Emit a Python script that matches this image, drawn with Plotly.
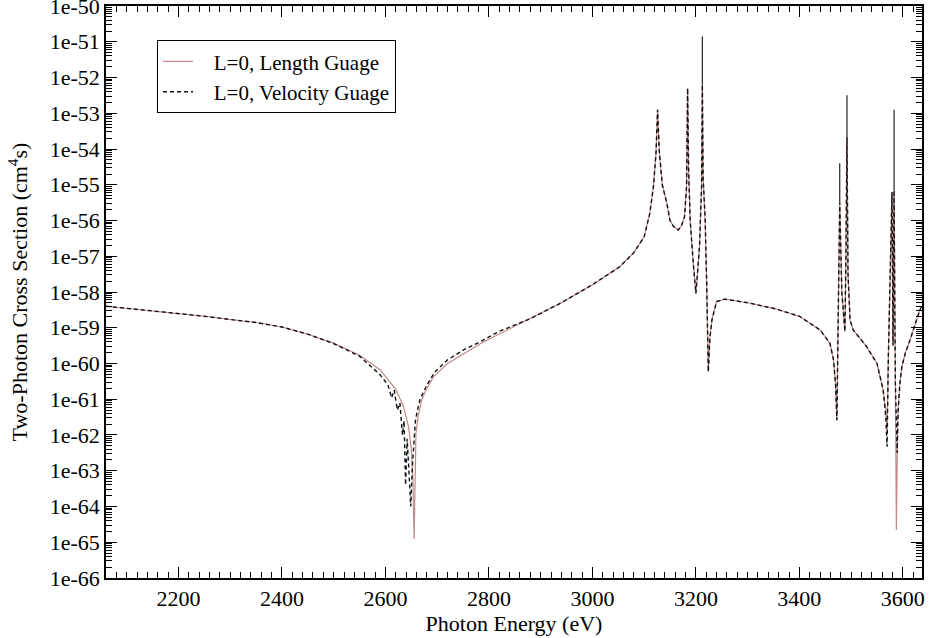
import plotly.graph_objects as go

# Photon energy (eV) and two-photon cross section (cm^4 s), length gauge
len_x = [2060, 2100, 2150, 2200, 2250, 2300, 2350, 2400, 2450, 2500, 2550, 2590,
         2620, 2635, 2645, 2650, 2653, 2655.5, 2657.5, 2659, 2663, 2670, 2680, 2693,
         2720, 2751, 2785, 2822, 2880, 2940, 3000, 3053, 3080, 3100, 3111, 3118,
         3123, 3126, 3129, 3135, 3144, 3150, 3157, 3166, 3172, 3178, 3182, 3184,
         3186, 3189, 3195, 3200, 3204, 3207, 3211, 3212.5, 3214, 3218, 3221, 3224,
         3227, 3231, 3240, 3255, 3266, 3300, 3350, 3400, 3440, 3459, 3466, 3470,
         3472.5, 3475, 3478, 3482, 3488, 3490, 3492, 3494, 3498, 3504, 3530, 3550,
         3562, 3567, 3569.5, 3572, 3576, 3579, 3581, 3583, 3585.5, 3587.5, 3590,
         3594, 3598, 3605, 3614, 3625, 3633, 3637]
len_y = [4.0e-59, 3.5e-59, 3.0e-59, 2.5e-59, 2.1e-59, 1.7e-59, 1.4e-59, 1.05e-59,
         6.6e-60, 3.7e-60, 1.7e-60, 6.6e-61, 1.9e-61, 6.3e-62, 1.6e-62, 4.0e-63,
         6.3e-64, 1.26e-65, 1.0e-63, 1.12e-62, 3.2e-62, 9.5e-62, 2.0e-61, 4.3e-61,
         1.0e-60, 1.9e-60, 3.7e-60, 6.9e-60, 1.8e-59, 5.0e-59, 1.6e-58, 5.1e-58,
         1.26e-57, 3.5e-57, 1.6e-56, 8.9e-56, 7.9e-55, 1.26e-53, 1.0e-54, 1.0e-55,
         3.0e-56, 1.0e-56, 6.8e-57, 5.4e-57, 7.1e-57, 1.26e-56, 8.9e-56, 5.0e-53,
         2.5e-55, 1.0e-56, 6.3e-58, 9.1e-59, 5.0e-58, 1.86e-57, 8.9e-56, 6.3e-53,
         1.6e-55, 1.0e-56, 1.4e-58, 5.9e-61, 5.0e-60, 1.66e-59, 5.4e-59, 6.3e-59,
         6.0e-59, 5.0e-59, 3.5e-59, 2.1e-59, 8.7e-60, 3.7e-60, 1.26e-60, 2.5e-61,
         2.6e-62, 3.2e-59, 3.2e-56, 1.0e-58, 7.8e-60, 1.0e-57, 2.2e-54, 3.2e-58,
         1.66e-59, 8.7e-60, 2.95e-60, 1.0e-60, 1.8e-61, 5.0e-62, 1.26e-62, 1.6e-60,
         3.2e-58, 6.3e-56, 3.2e-60, 7.1e-56, 3.2e-61, 2.2e-65, 3.2e-62, 2.5e-61,
         8.1e-61, 2.0e-60, 4.6e-60, 1.4e-59, 3.2e-59, 4.0e-59]

# Velocity gauge
vel_x = [2060, 2100, 2150, 2200, 2250, 2300, 2350, 2400, 2450, 2500, 2550, 2590,
         2605, 2612, 2617, 2623, 2628, 2633, 2636, 2639, 2642, 2645, 2649, 2652,
         2655, 2658, 2662, 2667, 2680, 2696, 2720, 2751, 2785, 2819, 2880, 2940,
         3000, 3053, 3080, 3100, 3111, 3118, 3123, 3126, 3129, 3135, 3144, 3150,
         3157, 3166, 3172, 3178, 3182, 3184, 3186, 3189, 3195, 3200, 3204, 3207,
         3211, 3212.5, 3214, 3218, 3221, 3224, 3227, 3231, 3240, 3255, 3266, 3300,
         3350, 3400, 3440, 3459, 3466, 3470, 3472.5, 3475, 3478, 3482, 3488, 3490,
         3492, 3494, 3498, 3504, 3530, 3550, 3562, 3567, 3569.5, 3572, 3576, 3579,
         3581, 3583, 3585.5, 3587.5, 3589, 3591, 3594, 3598, 3605, 3614, 3625,
         3633, 3637]
vel_y = [4.0e-59, 3.5e-59, 3.0e-59, 2.5e-59, 2.1e-59, 1.7e-59, 1.4e-59, 1.05e-59,
         6.6e-60, 3.6e-60, 1.6e-60, 4.8e-61, 2.5e-61, 1.1e-61, 1.8e-61, 5.0e-62,
         7.9e-62, 1.0e-62, 2.5e-62, 4.0e-64, 7.9e-63, 1.26e-63, 1.0e-64, 1.26e-63,
         6.3e-63, 2.5e-62, 5.0e-62, 1.0e-61, 2.5e-61, 5.9e-61, 1.26e-60, 2.4e-60,
         4.2e-60, 7.8e-60, 1.8e-59, 5.0e-59, 1.6e-58, 5.1e-58, 1.26e-57, 3.5e-57,
         1.6e-56, 8.9e-56, 7.9e-55, 1.26e-53, 1.0e-54, 1.0e-55, 3.0e-56, 1.0e-56,
         6.8e-57, 5.4e-57, 7.1e-57, 1.26e-56, 8.9e-56, 5.0e-53, 2.5e-55, 1.0e-56,
         6.3e-58, 9.1e-59, 5.0e-58, 1.86e-57, 8.9e-56, 6.3e-53, 1.6e-55, 1.0e-56,
         1.4e-58, 5.9e-61, 5.0e-60, 1.66e-59, 5.4e-59, 6.3e-59, 6.0e-59, 5.0e-59,
         3.5e-59, 2.1e-59, 8.7e-60, 3.7e-60, 1.26e-60, 2.5e-61, 2.6e-62, 3.2e-59,
         3.2e-56, 1.0e-58, 7.8e-60, 1.0e-57, 2.2e-54, 3.2e-58, 1.66e-59, 8.7e-60,
         2.95e-60, 1.0e-60, 1.8e-61, 3.2e-62, 4.7e-63, 1.6e-60, 3.2e-58, 6.3e-56,
         3.2e-60, 7.1e-56, 3.2e-61, 1.0e-62, 3.2e-63, 5.0e-62, 2.5e-61, 8.1e-61,
         2.0e-60, 4.6e-60, 1.4e-59, 3.2e-59, 4.0e-59]

# Narrow resonance tips of the velocity-gauge curve (energy, base, top)
tip_x = [3212.5, 3478, 3492, 3583]
tip_base = [6.3e-53, 3.2e-56, 2.2e-54, 7.1e-56]
tip_top = [1.4e-51, 4.0e-55, 3.2e-53, 1.26e-53]

# Axis ticks
x_ticks = [2200, 2400, 2600, 2800, 3000, 3200, 3400, 3600]
y_tick_exp = list(range(-66, -49))
y_tick_text = ["1e%d" % e for e in y_tick_exp]

serif = "Liberation Serif, Times New Roman, serif"
pad = "\u00a0\u00a0\u00a0"

tx, ty = [], []
for x, b, t in zip(tip_x, tip_base, tip_top):
    tx += [x, x, None]
    ty += [b, t, None]

fig = go.Figure()
fig.add_trace(go.Scatter(
    x=len_x, y=len_y, mode="lines", name=pad + "L=0, Length Guage",
    line=dict(color="#c08a8a", width=1.2),
))
fig.add_trace(go.Scatter(
    x=vel_x, y=vel_y, mode="lines", name=pad + "L=0, Velocity Guage",
    line=dict(color="#111111", width=1.4, dash="4px,3px"),
    legendgroup="vel",
))
fig.add_trace(go.Scatter(
    x=tx, y=ty, mode="lines", showlegend=False, legendgroup="vel",
    line=dict(color="#222222", width=1.2), hoverinfo="skip",
))

minor_y = [k * 10.0 ** e for e in range(-66, -50) for k in range(2, 10)]

fig.update_layout(
    width=930, height=638,
    margin=dict(l=106, r=8, t=6, b=60, autoexpand=False),
    paper_bgcolor="white", plot_bgcolor="white",
    font=dict(family=serif, size=22, color="black"),
    showlegend=True,
    legend=dict(
        x=0.0625, y=0.94, xanchor="left", yanchor="top",
        bgcolor="white", bordercolor="black", borderwidth=1,
        font=dict(family=serif, size=21), tracegroupgap=0, itemwidth=30,
    ),
    xaxis=dict(
        range=[2060, 3637], tickmode="array", tickvals=x_ticks,
        automargin=False,
        ticks="inside", ticklen=11, tickwidth=1, tickcolor="black",
        showline=True, linecolor="black", linewidth=1.5, mirror="allticks",
        showgrid=False, zeroline=False,
        minor=dict(dtick=20, ticks="inside", ticklen=6, tickcolor="black",
                   showgrid=False),
        tickfont=dict(family=serif, size=22),
        title=dict(text="Photon Energy (eV)", font=dict(family=serif, size=22),
                   standoff=4),
    ),
    yaxis=dict(
        type="log", range=[-66.0005, -49.9995], automargin=False,
        tickmode="array", tickvals=[10.0 ** e for e in y_tick_exp],
        ticktext=y_tick_text, ticklabeloverflow="allow",
        ticks="inside", ticklen=11, tickwidth=1, tickcolor="black",
        showline=True, linecolor="black", linewidth=1.5, mirror="allticks",
        showgrid=False, zeroline=False,
        minor=dict(tickmode="array", tickvals=minor_y, ticks="inside",
                   ticklen=6, tickcolor="black", showgrid=False),
        tickfont=dict(family=serif, size=22),
        title=dict(text="Two-Photon Cross Section (cm<sup>4</sup>s)",
                   font=dict(family=serif, size=22), standoff=16),
    ),
)

fig.write_html("out.html")
